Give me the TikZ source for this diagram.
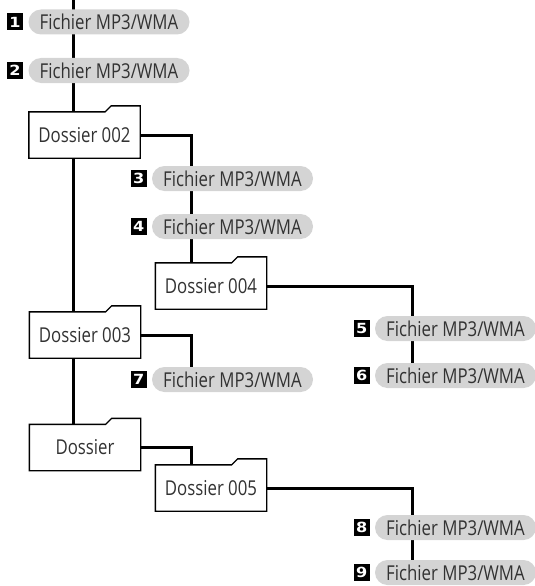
\documentclass[tikz,border=0pt]{standalone}
\usepackage{fontspec}
\setmainfont{Open Sans}[FakeStretch=0.82]
\newfontfamily\numfont{DejaVu Sans}[FakeStretch=1.15]
\usetikzlibrary{positioning,backgrounds,calc}
\definecolor{pillgray}{RGB}{212,212,212}
\definecolor{textgray}{RGB}{50,50,50}

\begin{document}
\begin{tikzpicture}[x=1pt, y=1pt,
  mp3/.style={fill=pillgray, rounded corners=12.5pt, minimum width=161pt, minimum height=25pt, inner sep=0pt, text=textgray, font=\fontsize{20.5}{20.5}\selectfont},
  num/.style={fill=black, text=white, minimum width=16pt, minimum height=17pt, inner sep=0pt, font=\numfont\bfseries\fontsize{14}{14}\selectfont},
  folder/.style={minimum width=111pt, minimum height=46pt, inner sep=0pt, text=textgray, font=\fontsize{20.5}{20.5}\selectfont},
  folderline/.style={draw=black, fill=white, line width=1.4pt, line join=miter},
  branch/.style={line width=3pt}]
  \useasboundingbox (0,0) rectangle (535,-586);

  % columns of the tree
  \coordinate (top) at (73,0);
  \coordinate (c2) at (191,0);
  \coordinate (c3) at (412,0);

  % Files and folders
  \node[mp3] (f1) at (109,-22) {Fichier MP3/WMA};
  \node[mp3] (f2) at (109,-70.5) {Fichier MP3/WMA};
  \node[folder] (d002) at (84.5,-135) {Dossier 002};
  \node[mp3] (f3) at (232.5,-178.5) {Fichier MP3/WMA};
  \node[mp3] (f4) at (232.5,-226.5) {Fichier MP3/WMA};
  \node[folder] (d004) at (211,-286) {Dossier 004};
  \node[mp3] (f5) at (455.5,-328.5) {Fichier MP3/WMA};
  \node[mp3] (f6) at (455.5,-375.5) {Fichier MP3/WMA};
  \node[folder] (d003) at (85,-335) {Dossier 003};
  \node[mp3] (f7) at (232.5,-379.5) {Fichier MP3/WMA};
  \node[folder] (dos) at (85,-447.5) {Dossier};
  \node[folder] (d005) at (211,-488) {Dossier 005};
  \node[mp3] (f8) at (455.5,-527.5) {Fichier MP3/WMA};
  \node[mp3] (f9) at (455.5,-572.5) {Fichier MP3/WMA};

  % Track numbers
  \foreach \i in {1,...,9}
    \node[num, left=5pt of f\i] (n\i) {\i};

  \begin{scope}[on background layer]
    % Branches
    \draw[branch] (top) -- (top |- dos.north);
    \draw[branch] (d002.east) -| (c2 |- d004.north);
    \draw[branch] (d003.east) -| (c2 |- f7.north);
    \draw[branch] (dos.east) -| (c2 |- d005.north);
    \draw[branch] (d004.east) -| (c3 |- f6.north);
    \draw[branch] (d005.east) -| (c3 |- f9.north);
    % Folder outlines
    \foreach \f in {d002,d003,dos,d004,d005}
      \filldraw[folderline] (\f.south west) -- (\f.north west) -- ([xshift=-35pt]\f.north east)
        -- ++(6,6) -- ([yshift=6pt]\f.north east) -- (\f.south east) -- cycle;
  \end{scope}
\end{tikzpicture}
\end{document}
